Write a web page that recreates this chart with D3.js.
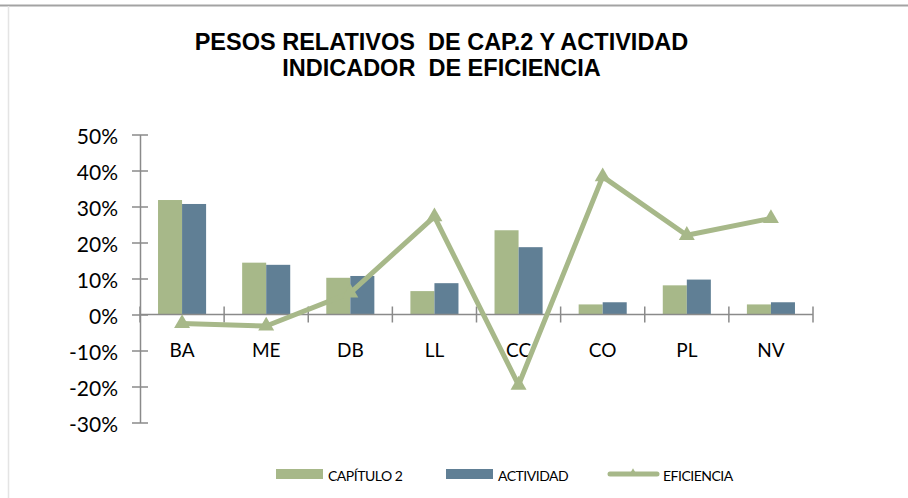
<!DOCTYPE html>
<html>
<head>
<meta charset="utf-8">
<script src="https://cdn.jsdelivr.net/npm/d3@7"></script>
<style>
  body { margin: 0; background: #fff; }
  svg { display: block; }
</style>
</head>
<body>
<div id="chart"></div>
<script>
const width = 908;
const height = 498;

// data
const categories = ['BA', 'ME', 'DB', 'LL', 'CC', 'CO', 'PL', 'NV'];
const capitulo2 = [0.318, 0.144, 0.102, 0.065, 0.234, 0.028, 0.081, 0.028];
const actividad = [0.307, 0.138, 0.107, 0.087, 0.187, 0.034, 0.097, 0.034];
const eficiencia = [-0.025, -0.032, 0.06, 0.272, -0.196, 0.383, 0.22, 0.267];
const yTicks = [-0.3, -0.2, -0.1, 0, 0.1, 0.2, 0.3, 0.4, 0.5];
const seriesNames = ['CAPÍTULO 2', 'ACTIVIDAD', 'EFICIENCIA'];

const colGreen = '#a7b889';
const colBlue = '#607f95';
const colLine = '#a7b889';
const axisCol = '#8a8a8a';

const svg = d3.select('#chart').append('svg')
  .attr('width', width)
  .attr('height', height);

// chart frame (only top and left edges show)
svg.append('line')
  .attr('x1', 0).attr('x2', width).attr('y1', 5.5).attr('y2', 5.5)
  .attr('stroke', '#a3a3a3').attr('stroke-width', 2);
svg.append('line')
  .attr('x1', 8.5).attr('x2', 8.5).attr('y1', 6).attr('y2', height)
  .attr('stroke', '#e4e4e4').attr('stroke-width', 1.5);

// title (keep the double spaces)
const title = svg.append('text')
  .attr('text-anchor', 'middle')
  .attr('font-family', 'Liberation Sans, Arial, sans-serif')
  .attr('font-weight', 'bold')
  .attr('font-size', 23.5)
  .style('white-space', 'pre')
  .attr('fill', '#000');
title.append('tspan').attr('x', 441.5).attr('y', 49.5).text('PESOS RELATIVOS  DE CAP.2 Y ACTIVIDAD');
title.append('tspan').attr('x', 441.5).attr('y', 75.5).text('INDICADOR  DE EFICIENCIA');

const plot = { left: 140, right: 813, top: 134.5, bottom: 422.5 };

const x = d3.scaleBand()
  .domain(categories)
  .range([plot.left, plot.right])
  .padding(0);

const xSub = d3.scaleBand()
  .domain(['c', 'a'])
  .range([0, x.bandwidth()])
  .paddingInner(0)
  .paddingOuter(0.75);

const y = d3.scaleLinear()
  .domain([-0.3, 0.5])
  .range([plot.bottom, plot.top]);

// y axis
const pct = d => Math.round(d * 100) + '%';
const yAxis = svg.append('g')
  .attr('transform', `translate(${plot.left},0)`)
  .call(d3.axisLeft(y).tickValues(yTicks).tickSize(0).tickFormat(pct));
yAxis.select('.domain').attr('stroke', axisCol).attr('stroke-width', 1.5);
yAxis.selectAll('text')
  .attr('x', -22)
  .attr('dy', '0.45em')
  .attr('font-family', 'Lato, Carlito, sans-serif')
  .attr('font-size', 21)
  .attr('fill', '#000');
yAxis.selectAll('.tick').append('line')
  .attr('x1', -8).attr('x2', 8)
  .attr('stroke', axisCol).attr('stroke-width', 1.5);

// bars
const groups = svg.append('g').selectAll('g')
  .data(categories)
  .join('g')
  .attr('transform', d => `translate(${x(d)},0)`);

groups.append('rect')
  .attr('x', xSub('c'))
  .attr('width', xSub.bandwidth())
  .attr('y', (d, i) => y(Math.max(0, capitulo2[i])))
  .attr('height', (d, i) => Math.abs(y(capitulo2[i]) - y(0)))
  .attr('fill', colGreen);

groups.append('rect')
  .attr('x', xSub('a'))
  .attr('width', xSub.bandwidth())
  .attr('y', (d, i) => y(Math.max(0, actividad[i])))
  .attr('height', (d, i) => Math.abs(y(actividad[i]) - y(0)))
  .attr('fill', colBlue);

// x axis at zero
const xAxisG = svg.append('g').attr('transform', `translate(0,${y(0)})`);
xAxisG.append('line')
  .attr('x1', plot.left).attr('x2', plot.right)
  .attr('stroke', axisCol).attr('stroke-width', 1.5);
const boundaries = categories.map(c => x(c)).concat([plot.right]);
xAxisG.selectAll('line.tk')
  .data(boundaries)
  .join('line')
  .attr('class', 'tk')
  .attr('x1', d => d).attr('x2', d => d)
  .attr('y1', -8).attr('y2', 8)
  .attr('stroke', axisCol).attr('stroke-width', 1.5);

// category labels
svg.append('g').selectAll('text')
  .data(categories)
  .join('text')
  .attr('x', d => x(d) + x.bandwidth() / 2)
  .attr('y', y(0) + 42)
  .attr('text-anchor', 'middle')
  .attr('font-family', 'Lato, Carlito, sans-serif')
  .attr('font-size', 19)
  .attr('fill', '#000')
  .text(d => d);

// efficiency line
const line = d3.line()
  .x((d, i) => x(categories[i]) + x.bandwidth() / 2)
  .y(d => y(d));

svg.append('path')
  .datum(eficiencia)
  .attr('d', line)
  .attr('fill', 'none')
  .attr('stroke', colLine)
  .attr('stroke-width', 5)
  .attr('stroke-linejoin', 'round');

const tri = d3.symbol().type(d3.symbolTriangle).size(110);
svg.append('g').selectAll('path')
  .data(eficiencia)
  .join('path')
  .attr('d', tri)
  .attr('transform', (d, i) => `translate(${x(categories[i]) + x.bandwidth() / 2},${y(d)})`)
  .attr('fill', colLine);

// legend
const legend = svg.append('g')
  .attr('font-family', 'Lato, Carlito, sans-serif')
  .attr('font-size', 14)
  .attr('letter-spacing', -0.5)
  .attr('fill', '#000');

legend.append('rect').attr('x', 276).attr('y', 469).attr('width', 47).attr('height', 10).attr('fill', colGreen);
legend.append('text').attr('x', 328).attr('y', 480.5).text(seriesNames[0]);

legend.append('rect').attr('x', 446).attr('y', 469).attr('width', 47).attr('height', 10).attr('fill', colBlue);
legend.append('text').attr('x', 498).attr('y', 480.5).text(seriesNames[1]);

legend.append('line').attr('x1', 610).attr('x2', 657).attr('y1', 474).attr('y2', 474)
  .attr('stroke', colLine).attr('stroke-width', 5).attr('stroke-linecap', 'round');
legend.append('path').attr('d', d3.symbol().type(d3.symbolTriangle).size(30))
  .attr('transform', 'translate(633,473)').attr('fill', colLine);
legend.append('text').attr('x', 663).attr('y', 480.5).text(seriesNames[2]);
</script>
</body>
</html>
